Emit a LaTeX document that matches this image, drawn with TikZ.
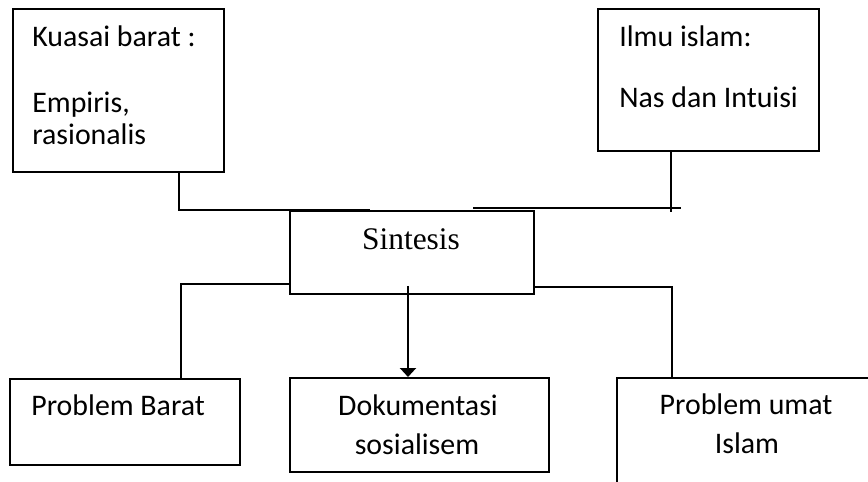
\documentclass[tikz,border=0pt]{standalone}
\usepackage{fontspec}
\setmainfont{Carlito}
\newfontfamily\timesfont{Liberation Serif}
\usetikzlibrary{arrows.meta}

\tikzset{
  box/.style={draw, line width=1.1pt, anchor=north west, inner sep=0pt},
  link/.style={line width=0.8pt},
  pointer/.style={line width=1.2pt, -{Triangle[width=0.32cm, length=0.18cm]}},
  txt/.style={inner sep=0pt, font=\fontsize{17}{20}\selectfont},
}

\begin{document}
\begin{tikzpicture}[x=0.02cm, y=-0.02cm]
  \useasboundingbox (0,0) rectangle (868,482);
  \clip (0,0) rectangle (868,482);

  % boxes
  \node[box, minimum width=4.22cm, minimum height=3.26cm] (kuasai) at (12,8) {};
  \node[box, minimum width=4.42cm, minimum height=2.84cm] (ilmu) at (597,8) {};
  \node[box, minimum width=4.88cm, minimum height=1.66cm] (sintesis) at (289,210) {};
  \node[box, minimum width=4.6cm, minimum height=1.72cm] (barat) at (9,378) {};
  \node[box, minimum width=5.18cm, minimum height=1.88cm] (dokum) at (289,377) {};
  \node[box, minimum width=5.4cm, minimum height=2.6cm] (umat) at (616,377) {};

  % texts
  \node[txt, anchor=base west] (kuasai1) at (32,47) {Kuasai barat :};
  \node[txt, anchor=base west] (kuasai2) at (32,113) {Empiris,};
  \node[txt, anchor=base west] (kuasai3) at (32,145) {rasionalis};
  \node[txt, anchor=base west] (ilmu1) at (619,47) {Ilmu islam:};
  \node[txt, anchor=base west] (ilmu2) at (619,108) {Nas dan Intuisi};
  \node[inner sep=0pt, anchor=base, font=\timesfont\fontsize{17.9}{20}\selectfont] (sintesisT) at (411,250) {Sintesis};
  \node[txt, anchor=base west] (barat1) at (31,416) {Problem Barat};
  \node[txt, anchor=base] (dokum1) at (418,416) {Dokumentasi};
  \node[txt, anchor=base] (dokum2) at (417,454) {sosialisem};
  \node[txt, anchor=base] (umat1) at (746,415) {Problem umat};
  \node[txt, anchor=base] (umat2) at (747,453) {Islam};

  % connectors
  \coordinate (kuasaiX) at (179,210);
  \coordinate (kuasaiEnd) at (370,210);
  \draw[link] (kuasai.south -| kuasaiX) -- (kuasaiX) -- (kuasaiEnd);

  \coordinate (ilmuX) at (671,212);
  \coordinate (joinL) at (473,208);
  \coordinate (joinR) at (681,208);
  \draw[link] (ilmu.south -| ilmuX) -- (ilmuX);
  \draw[link] (joinL) -- (joinR);

  \coordinate (baratX) at (181,284);
  \draw[link] (sintesis.west |- baratX) -- (baratX) -- (barat.north -| baratX);

  \coordinate (umatX) at (672,287);
  \draw[link] (sintesis.east |- umatX) -- (umatX) -- (umat.north -| umatX);

  \coordinate (arrowStart) at (408,286);
  \draw[pointer] (arrowStart) -- (dokum.north -| arrowStart);
\end{tikzpicture}
\end{document}
